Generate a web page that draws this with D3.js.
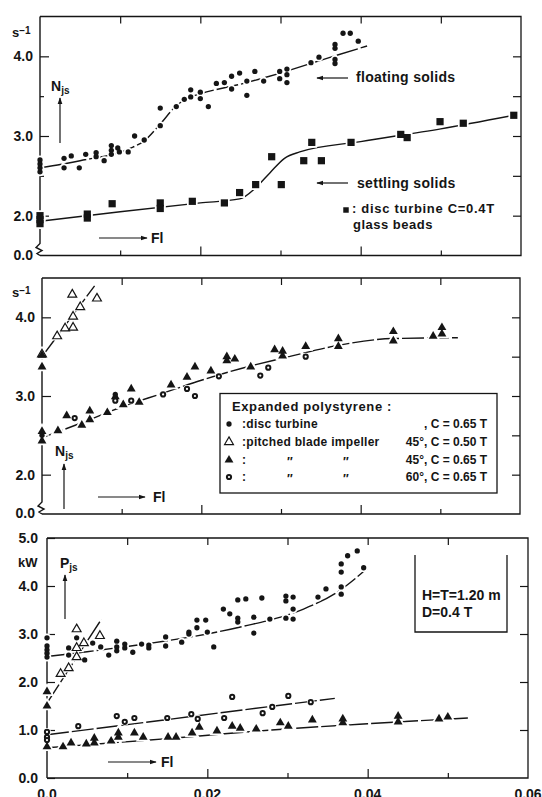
<!DOCTYPE html>
<html>
<head>
<meta charset="utf-8">
<script src="https://cdn.jsdelivr.net/npm/d3@7"></script>
<style>
  body { margin: 0; background: #fff; }
  svg text { font-family: "Liberation Sans", Arial, sans-serif; font-weight: bold; fill: #151515; }
</style>
</head>
<body>
<svg id="chart" width="542" height="797"></svg>
<script>
// ---- data (FI, value) ----
// panel 1 : Njs (s-1), glass beads / floating solids
const floatingPts = [[0,2.70],[0,2.65],[0,2.60],[0,2.55],[0.0030,2.72],[0.0030,2.60],[0.0039,2.75],[0.0049,2.60],
  [0.0057,2.77],[0.0070,2.79],[0.0070,2.74],[0.0080,2.69],[0.0089,2.88],[0.0089,2.82],[0.0089,2.77],[0.0097,2.85],
  [0.0099,2.80],[0.0110,2.80],[0.0118,3.00],[0.0130,2.95],[0.0150,3.13],[0.0150,3.35],[0.0170,3.37],[0.0180,3.46],
  [0.0188,3.58],[0.0188,3.49],[0.0200,3.55],[0.0200,3.47],[0.0210,3.37],[0.0220,3.66],[0.0230,3.67],[0.0239,3.75],
  [0.0239,3.59],[0.0249,3.79],[0.0258,3.69],[0.0258,3.51],[0.0268,3.81],[0.0279,3.69],[0.0299,3.81],[0.0299,3.72],
  [0.0308,3.84],[0.0308,3.77],[0.0308,3.67],[0.0338,3.92],[0.0348,3.99],[0.0368,4.15],[0.0368,4.10],[0.0368,3.96],
  [0.0368,3.91],[0.0378,4.29],[0.0387,4.29],[0.0397,4.19]];
const floatingCurve = [[0,2.60],[0.005,2.69],[0.0116,2.86],[0.0129,2.93],[0.015,3.15],[0.017,3.38],[0.0183,3.47],
  [0.020,3.53],[0.025,3.65],[0.030,3.79],[0.035,3.95],[0.0408,4.13]];
const settlingPts = [[0,2.00],[0,1.95],[0,1.90],[0.0059,2.02],[0.0059,1.97],[0.0090,2.15],[0.0150,2.16],[0.0150,2.09],
  [0.0190,2.18],[0.0230,2.16],[0.0249,2.29],[0.0269,2.39],[0.0289,2.74],[0.0301,2.39],[0.0329,2.69],[0.0339,2.92],
  [0.0351,2.69],[0.0388,2.92],[0.0450,3.02],[0.0458,2.98],[0.0499,3.18],[0.0528,3.16],[0.0591,3.26]];
const settlingCurve = [[0,1.93],[0.010,2.05],[0.020,2.16],[0.0249,2.21],[0.0269,2.35],[0.0287,2.54],[0.0305,2.72],
  [0.0324,2.80],[0.040,2.93],[0.050,3.09],[0.0591,3.26]];

// panel 2 : Njs (s-1), expanded polystyrene
const pitchedP2 = [[0,3.53],[0.0019,3.76],[0.0029,3.86],[0.0039,3.87],[0.0039,4.01],[0.0048,4.13],[0.0038,4.29],[0.0069,4.24]];
const pitchedLineP2 = [[0,3.50],[0.0066,4.40]];
const tri45P2 = [[0,3.52],[0,3.37],[0,2.55],[0,2.43],[0.0020,2.56],[0.0031,2.75],[0.0050,2.63],[0.0060,2.70],
  [0.0060,2.81],[0.0082,2.79],[0.0092,2.99],[0.0102,2.89],[0.0112,3.09],[0.0122,2.92],[0.0162,3.14],[0.0182,3.24],
  [0.0192,3.37],[0.0212,3.32],[0.0232,3.50],[0.0232,3.45],[0.0242,3.47],[0.0262,3.37],[0.0292,3.59],[0.0302,3.57],
  [0.0302,3.51],[0.0331,3.63],[0.0372,3.73],[0.0372,3.63],[0.0441,3.82],[0.0441,3.70],[0.0491,3.76],[0.0502,3.87],[0.0502,3.79]];
const deg60P2 = [[0.0041,2.72],[0.0092,2.94],[0.0112,2.94],[0.0152,3.02],[0.0182,3.09],[0.0192,3.00],[0.0222,3.25],
  [0.0274,3.26],[0.0284,3.36],[0.0331,3.50]];
const discP2 = [[0,2.50],[0.0092,3.02]];
const lowerLineP2 = [[0,2.47],[0.005,2.66],[0.010,2.86],[0.015,3.03],[0.020,3.20],[0.025,3.35],[0.031,3.50],
  [0.037,3.64],[0.044,3.73],[0.0522,3.74]];

// panel 3 : Pjs (kW)
const discP3 = [[0,2.92],[0,2.75],[0,2.67],[0,2.60],[0,2.52],[0.0027,2.71],[0.0027,2.56],[0.0037,2.92],[0.0037,2.71],
  [0.0047,2.46],[0.0057,2.81],[0.0067,2.73],[0.0077,2.56],[0.0087,2.85],[0.0087,2.73],[0.0087,2.65],[0.0097,2.79],
  [0.0097,2.71],[0.0107,2.62],[0.0118,2.79],[0.0127,2.77],[0.0127,2.71],[0.0148,2.94],[0.0148,2.75],[0.0168,2.83],
  [0.0177,3.04],[0.0177,3.00],[0.0187,3.13],[0.0187,3.29],[0.0198,3.29],[0.0200,3.04],[0.0208,2.73],[0.0220,3.52],
  [0.0228,3.42],[0.0238,3.71],[0.0238,3.33],[0.0238,3.25],[0.0248,3.73],[0.0258,3.02],[0.0258,3.35],[0.0268,3.75],
  [0.0278,3.31],[0.0298,3.79],[0.0298,3.69],[0.0298,3.33],[0.0307,3.77],[0.0307,3.52],[0.0307,3.31],[0.0338,3.77],
  [0.0348,3.94],[0.0367,4.46],[0.0367,4.29],[0.0367,3.98],[0.0367,3.83],[0.0375,4.63],[0.0387,4.73],[0.0395,4.38]];
const discLineP3 = [[0,2.53],[0.005,2.63],[0.010,2.74],[0.015,2.86],[0.020,3.00],[0.025,3.18],[0.028,3.30],
  [0.032,3.52],[0.036,3.85],[0.0399,4.36]];
const pitchedP3 = [[0.0037,3.10],[0.0037,2.71],[0.0037,2.52],[0.0027,2.29],[0.0017,2.17],[0.0046,2.81],[0.0066,2.96]];
const pitchedLineP3 = [[0,1.56],[0.0068,3.31]];
const tri45P3 = [[0,1.80],[0,1.50],[0,0.65],[0.0020,0.65],[0.0030,0.73],[0.0049,0.71],[0.0059,0.83],[0.0059,0.73],
  [0.0080,0.77],[0.0089,0.94],[0.0089,0.85],[0.0109,0.94],[0.0120,0.85],[0.0151,0.85],[0.0161,0.85],[0.0181,0.94],
  [0.0190,1.06],[0.0212,0.98],[0.0231,1.08],[0.0241,1.04],[0.0261,1.02],[0.0291,1.15],[0.0301,1.08],[0.0331,1.21],
  [0.0369,1.23],[0.0369,1.15],[0.0438,1.29],[0.0438,1.17],[0.0489,1.23],[0.0500,1.27]];
const tri45LineP3 = [[0,0.63],[0.015,0.82],[0.028,1.00],[0.040,1.13],[0.0525,1.25]];
const deg60P3 = [[0,0.96],[0,0.85],[0,0.79],[0.0039,1.08],[0.0087,1.29],[0.0097,1.17],[0.0109,1.25],[0.0150,1.25],
  [0.0180,1.33],[0.0188,1.23],[0.0221,1.25],[0.0231,1.69],[0.0269,1.35],[0.0281,1.48],[0.0301,1.71],[0.0329,1.58]];
const deg60LineP3 = [[0,0.90],[0.0359,1.66]];

// ticks
const xTopTicks = [0.01, 0.02, 0.03, 0.04, 0.05];
const xMajorTicks = [0.02, 0.04];
const xMinorTicks = [0.01, 0.03, 0.05];
const xLabelValues = [0, 0.02, 0.04, 0.06];
const xLabels = ["0.0", "0.02", "0.04", "0.06"];
const nTicks = [2, 3, 4];
const nMinorTicks = [2.5, 3.5];
const nRightTicks = [2, 2.5, 3, 3.5, 4];
const pTicks = [0, 1, 2, 3, 4, 5];
const pRightTicks = [1, 2, 3, 4];

// legend
const legendTitle = "Expanded polystyrene :";
const legendLeft = [":disc turbine", ":pitched blade impeller", ":", ":"];
const legendRight = [", C = 0.65 T", "45°, C = 0.50 T", "45°, C = 0.65 T", "60°, C = 0.65 T"];
const legendKinds = ["dot", "otri", "tri", "ring"];

const svg = d3.select("#chart");
const ink = "#151515";

// arrow head
svg.append("defs").append("marker")
  .attr("id", "ah").attr("viewBox", "0 0 10 10")
  .attr("refX", 9).attr("refY", 5)
  .attr("markerWidth", 6).attr("markerHeight", 6)
  .attr("orient", "auto")
  .append("path").attr("d", "M0,1.5L10,5L0,8.5z").attr("fill", ink);

// panel layout (the scan is a bit skewed so each frame has its own edges)
const panels = [
  {left: 40, right: 521, top: 16.5, bottom: 255.5, yDomain: [1.5, 4.5], broken: true},
  {left: 42, right: 520, top: 278, bottom: 514, yDomain: [1.5, 4.5], broken: true},
  {left: 47, right: 528, top: 538, bottom: 778, yDomain: [0, 5], broken: false}
];

// symbol helpers
function symbolPath(kind) {
  if (kind === "square") return d3.symbol(d3.symbolSquare, 52)();
  if (kind === "tri" || kind === "otri") return d3.symbol(d3.symbolTriangle, 34)();
  if (kind === "ring") return d3.symbol(d3.symbolCircle, 14)();
  return d3.symbol(d3.symbolCircle, 22)();
}
function styleSymbol(sel, kind) {
  if (kind === "otri") sel.attr("fill", "#fff").attr("stroke", ink).attr("stroke-width", 1.2);
  else if (kind === "ring") sel.attr("fill", "#fff").attr("stroke", ink).attr("stroke-width", 2);
  else sel.attr("fill", ink);
}

function buildPanel(p, series, lines) {
  const x = d3.scaleLinear().domain([0, 0.06]).range([p.left, p.right]);
  const y = d3.scaleLinear().domain(p.yDomain).range([p.bottom, p.top]);
  const g = svg.append("g");

  // frame top / right / bottom
  g.append("path")
    .attr("d", `M${p.left},${p.top}H${p.right}V${p.bottom}H${p.left}`)
    .attr("fill", "none").attr("stroke", ink).attr("stroke-width", 1.3);
  // left axis, with the break on the first two panels
  let d = `M${p.left},${p.top}V${p.bottom}`;
  if (p.broken) {
    const b = p.bottom;
    d = `M${p.left},${p.top}V${b - 12}L${p.left - 4},${b - 8}L${p.left + 2},${b - 5}L${p.left - 3},${b - 2}L${p.left},${b}`;
  }
  g.append("path").attr("d", d).attr("fill", "none").attr("stroke", ink).attr("stroke-width", 1.4);

  // x ticks, inside the frame
  const ax = (axis, tx, ty) => {
    const a = g.append("g").attr("transform", `translate(${tx},${ty})`).call(axis);
    a.select(".domain").remove();
    a.selectAll("line").attr("stroke", ink).attr("stroke-width", 1.2);
    return a;
  };
  ax(d3.axisTop(x).tickValues(xTopTicks).tickSizeInner(-7).tickSizeOuter(0).tickFormat(""), 0, p.top);
  ax(d3.axisBottom(x).tickValues(xMajorTicks).tickSizeInner(-9).tickSizeOuter(0).tickFormat(""), 0, p.bottom);
  ax(d3.axisBottom(x).tickValues(xMinorTicks).tickSizeInner(-5).tickSizeOuter(0).tickFormat(""), 0, p.bottom);

  // y ticks
  const fmt = d3.format(".1f");
  if (p.broken) {
    const left = ax(d3.axisLeft(y).tickValues(nTicks).tickSizeInner(-9).tickSizeOuter(0).tickPadding(7).tickFormat(fmt), p.left, 0);
    left.selectAll("text").attr("font-size", 14).attr("font-family", null).attr("fill", ink);
    ax(d3.axisLeft(y).tickValues(nMinorTicks).tickSizeInner(-4).tickSizeOuter(0).tickFormat(""), p.left, 0);
    ax(d3.axisRight(y).tickValues(nRightTicks).tickSizeInner(-8).tickSizeOuter(0).tickFormat(""), p.right, 0);
    g.append("text").attr("x", p.left - 7).attr("y", p.bottom + 4)
      .attr("text-anchor", "end").attr("font-size", 14).text("0.0");
  } else {
    const left = ax(d3.axisLeft(y).tickValues(pTicks).tickSizeInner(-8).tickSizeOuter(0).tickPadding(9).tickFormat(fmt), p.left, 0);
    left.selectAll("text").attr("font-size", 14).attr("font-family", null).attr("fill", ink);
    ax(d3.axisRight(y).tickValues(pRightTicks).tickSizeInner(-8).tickSizeOuter(0).tickFormat(""), p.right, 0);
    // the scan cuts these labels at the bottom edge
    g.selectAll(".xlab").data(xLabelValues).enter().append("text")
      .attr("class", "xlab")
      .attr("x", v => x(v)).attr("y", p.bottom + 21)
      .attr("text-anchor", "middle").attr("font-size", 14)
      .text((v, i) => xLabels[i]);
  }

  // fitted lines (slightly broken, like the drawn ones)
  const line = d3.line().x(v => x(v[0])).y(v => y(v[1])).curve(d3.curveMonotoneX);
  lines.forEach(l => {
    g.append("path").attr("d", line(l.pts)).attr("fill", "none")
      .attr("stroke", ink).attr("stroke-width", 1.4)
      .attr("stroke-dasharray", l.dash ? "22,3" : null);
  });

  // white halos first so the lines look broken at the points, then the points
  series.forEach(s => {
    g.append("g").selectAll("path").data(s.pts).enter().append("path")
      .attr("d", symbolPath(s.kind))
      .attr("transform", v => `translate(${x(v[0])},${y(v[1])})`)
      .attr("fill", "#fff").attr("stroke", "#fff").attr("stroke-width", 3.5);
  });
  series.forEach(s => {
    g.append("g").selectAll("path").data(s.pts).enter().append("path")
      .attr("d", symbolPath(s.kind))
      .attr("transform", v => `translate(${x(v[0])},${y(v[1])})`)
      .call(styleSymbol, s.kind);
  });
  return {x, y, g};
}

buildPanel(panels[0],
  [{pts: floatingPts, kind: "dot"}, {pts: settlingPts, kind: "square"}],
  [{pts: floatingCurve, dash: true}, {pts: settlingCurve, dash: false}]);
buildPanel(panels[1],
  [{pts: pitchedP2, kind: "otri"}, {pts: tri45P2, kind: "tri"}, {pts: deg60P2, kind: "ring"}, {pts: discP2, kind: "dot"}],
  [{pts: pitchedLineP2, dash: true}, {pts: lowerLineP2, dash: true}]);
buildPanel(panels[2],
  [{pts: discP3, kind: "dot"}, {pts: pitchedP3, kind: "otri"}, {pts: tri45P3, kind: "tri"}, {pts: deg60P3, kind: "ring"}],
  [{pts: discLineP3, dash: true}, {pts: pitchedLineP3, dash: true}, {pts: tri45LineP3, dash: true}, {pts: deg60LineP3, dash: true}]);

// ---- annotations ----
function arrow(x1, y1, x2, y2) {
  svg.append("line").attr("x1", x1).attr("y1", y1).attr("x2", x2).attr("y2", y2)
    .attr("stroke", ink).attr("stroke-width", 1.2).attr("marker-end", "url(#ah)");
}
function label(x, y, txt, size) {
  return svg.append("text").attr("x", x).attr("y", y).attr("font-size", size || 14).text(txt);
}
function unitLabel(x, y, base, sup) {
  const t = svg.append("text").attr("x", x).attr("y", y).attr("font-size", 13).text(base);
  t.append("tspan").attr("dy", -3).attr("font-size", 10).text(sup);
}
function subLabel(x, y, base, sub) {
  const t = svg.append("text").attr("x", x).attr("y", y).attr("font-size", 14).text(base);
  t.append("tspan").attr("dy", 3).attr("font-size", 10).text(sub);
}

// panel 1
unitLabel(12, 37, "s", "−1");
subLabel(51, 91, "N", "js");
arrow(60, 143, 60, 98);
arrow(99, 238, 147, 238);
label(151, 243, "Fl");
arrow(348, 78, 317, 78);
label(356, 82, "floating solids").attr("letter-spacing", 0.3);
arrow(348, 183, 317, 183);
label(357, 188, "settling solids").attr("letter-spacing", 0.3);
svg.append("path").attr("d", d3.symbol(d3.symbolSquare, 30)())
  .attr("transform", "translate(346,210)").attr("fill", ink);
label(352, 213, ": disc turbine C=0.4T", 13).attr("letter-spacing", 0.7);
label(353, 229, "glass beads", 13).attr("letter-spacing", 0.5);

// panel 2
unitLabel(12, 297, "s", "−1");
subLabel(55, 456, "N", "js");
arrow(64, 509, 64, 464);
arrow(98, 497, 145, 497);
label(153, 502, "Fl");

// legend box
svg.append("rect").attr("x", 220).attr("y", 393.5).attr("width", 277).attr("height", 99.5)
  .attr("fill", "#fff").attr("stroke", ink).attr("stroke-width", 1.3);
label(232, 411, legendTitle, 13).attr("letter-spacing", 0.6);
const rowY = [428, 446, 464, 481];
legendKinds.forEach((k, i) => {
  svg.append("path").attr("d", symbolPath(k))
    .attr("transform", `translate(229,${rowY[i] - 4})`).call(styleSymbol, k);
  label(242, rowY[i], legendLeft[i], 12).attr("letter-spacing", 0.3);
  label(487, rowY[i], legendRight[i], 12).attr("text-anchor", "end");
  if (i >= 2) {
    label(287, rowY[i] + 2, "″", 12);
    label(343, rowY[i] + 2, "″", 12);
  }
});

// panel 3
label(18, 567, "kW", 13);
subLabel(60, 568, "P", "js");
arrow(65, 619, 65, 575);
arrow(108, 762, 156, 762);
label(161, 767, "Fl");
svg.append("path").attr("d", "M415,555V632H507V555")
  .attr("fill", "none").attr("stroke", ink).attr("stroke-width", 1.3);
label(422, 600, "H=T=1.20 m");
label(422, 617, "D=0.4 T");
</script>
</body>
</html>
